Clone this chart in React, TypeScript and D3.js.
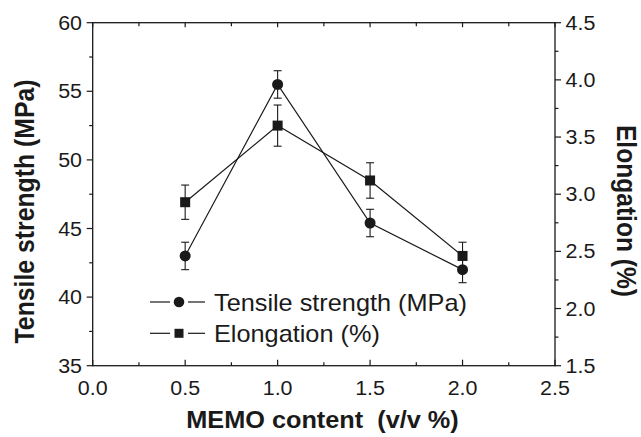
import React from "react";
import * as d3 from "d3";

const xValues = [0.5, 1.0, 1.5, 2.0];
const tensile = [43.0, 55.5, 45.4, 42.0];
const tensileErr = [1.0, 1.0, 1.0, 0.95];
const elongation = [2.93, 3.6, 3.12, 2.46];
const elongationErr = [0.15, 0.18, 0.155, 0.12];

const xTicks = [0, 0.5, 1.0, 1.5, 2.0, 2.5];
const leftTicks = [35, 40, 45, 50, 55, 60];
const rightTicks = [1.5, 2.0, 2.5, 3.0, 3.5, 4.0, 4.5];

const W = 641;
const H = 437;
const L = 92.7;
const R = 555;
const TOP = 22.7;
const BOT = 365.7;
const SX = 1.1;
const INK = "#1a1a1a";
const FONT = "'Liberation Sans', Arial, sans-serif";

const T = ({ x, y, anchor = "start", rot = 0, size, bold = false, children }: any) => (
  <text
    transform={`translate(${x},${y}) scale(${SX},1) rotate(${rot})`}
    textAnchor={anchor}
    fontSize={size}
    fontWeight={bold ? "bold" : "normal"}
    fontFamily={FONT}
    fill={INK}
  >
    {children}
  </text>
);

export default function App() {
  const x = d3.scaleLinear().domain([0, 2.5]).range([L, R]);
  const yL = d3.scaleLinear().domain([35, 60]).range([BOT, TOP]);
  const yR = d3.scaleLinear().domain([1.5, 4.5]).range([BOT, TOP]);

  const xMinor = d3.range(0.25, 2.5, 0.5);
  const lMinor = d3.range(37.5, 60, 5);
  const rMinor = d3.range(1.75, 4.5, 0.5);

  const lineT = d3
    .line<number>()
    .x((_, i) => x(xValues[i]))
    .y((d) => yL(d));
  const lineE = d3
    .line<number>()
    .x((_, i) => x(xValues[i]))
    .y((d) => yR(d));

  const MAJ = 6;
  const MIN = 3.5;
  const cap = 4;

  return (
    <svg width={W} height={H} style={{ position: "absolute", left: 0, top: 0, background: "#fff" }}>
      <rect x={0} y={0} width={W} height={H} fill="#fff" />
      {/* frame */}
      <rect x={L} y={TOP} width={R - L} height={BOT - TOP} fill="none" stroke={INK} strokeWidth={1.3} />
      {/* bottom ticks (inward) and top ticks (inward) */}
      {xTicks.map((t) => (
        <g key={"xt" + t}>
          <line x1={x(t)} x2={x(t)} y1={BOT} y2={BOT - MAJ} stroke={INK} strokeWidth={1.2} />
          <line x1={x(t)} x2={x(t)} y1={TOP} y2={TOP + 4.5} stroke={INK} strokeWidth={1.2} />
          <T x={x(t)} y={395} anchor="middle" size={19.5}>
            {t.toFixed(1)}
          </T>
        </g>
      ))}
      {xMinor.map((t) => (
        <g key={"xm" + t}>
          <line x1={x(t)} x2={x(t)} y1={BOT} y2={BOT - MIN} stroke={INK} strokeWidth={1.2} />
          <line x1={x(t)} x2={x(t)} y1={TOP} y2={TOP + MIN} stroke={INK} strokeWidth={1.2} />
        </g>
      ))}
      {/* left axis ticks (outward) */}
      {leftTicks.map((t) => (
        <g key={"lt" + t}>
          <line x1={L} x2={L - MAJ} y1={yL(t)} y2={yL(t)} stroke={INK} strokeWidth={1.2} />
          <T x={82} y={yL(t) + 7} anchor="end" size={19.5}>
            {t}
          </T>
        </g>
      ))}
      {lMinor.map((t) => (
        <line key={"lm" + t} x1={L} x2={L - MIN} y1={yL(t)} y2={yL(t)} stroke={INK} strokeWidth={1.2} />
      ))}
      {/* right axis ticks (outward) */}
      {rightTicks.map((t) => (
        <g key={"rt" + t}>
          <line x1={R} x2={R + MAJ} y1={yR(t)} y2={yR(t)} stroke={INK} strokeWidth={1.2} />
          <T x={565.5} y={yR(t) + 7} anchor="start" size={19.5}>
            {t.toFixed(1)}
          </T>
        </g>
      ))}
      {rMinor.map((t) => (
        <line key={"rm" + t} x1={R} x2={R + MIN} y1={yR(t)} y2={yR(t)} stroke={INK} strokeWidth={1.2} />
      ))}

      {/* series lines */}
      <path d={lineT(tensile) || ""} fill="none" stroke={INK} strokeWidth={1.2} />
      <path d={lineE(elongation) || ""} fill="none" stroke={INK} strokeWidth={1.2} />

      {/* error bars */}
      {tensile.map((v, i) => (
        <g key={"te" + i} stroke={INK} strokeWidth={1.1}>
          <line x1={x(xValues[i])} x2={x(xValues[i])} y1={yL(v - tensileErr[i])} y2={yL(v + tensileErr[i])} />
          <line x1={x(xValues[i]) - cap} x2={x(xValues[i]) + cap} y1={yL(v - tensileErr[i])} y2={yL(v - tensileErr[i])} />
          <line x1={x(xValues[i]) - cap} x2={x(xValues[i]) + cap} y1={yL(v + tensileErr[i])} y2={yL(v + tensileErr[i])} />
        </g>
      ))}
      {elongation.map((v, i) => (
        <g key={"ee" + i} stroke={INK} strokeWidth={1.1}>
          <line x1={x(xValues[i])} x2={x(xValues[i])} y1={yR(v - elongationErr[i])} y2={yR(v + elongationErr[i])} />
          <line x1={x(xValues[i]) - cap} x2={x(xValues[i]) + cap} y1={yR(v - elongationErr[i])} y2={yR(v - elongationErr[i])} />
          <line x1={x(xValues[i]) - cap} x2={x(xValues[i]) + cap} y1={yR(v + elongationErr[i])} y2={yR(v + elongationErr[i])} />
        </g>
      ))}

      {/* markers */}
      {elongation.map((v, i) => (
        <rect key={"sq" + i} x={x(xValues[i]) - 5} y={yR(v) - 5} width={10} height={10} fill={INK} />
      ))}
      {tensile.map((v, i) => (
        <circle key={"ci" + i} cx={x(xValues[i])} cy={yL(v)} r={5.5} fill={INK} />
      ))}

      {/* legend */}
      <g stroke={INK} strokeWidth={1.2}>
        <line x1={150} x2={170} y1={302} y2={302} />
        <line x1={188} x2={205} y1={302} y2={302} />
        <line x1={150} x2={170} y1={333.3} y2={333.3} />
        <line x1={188} x2={205} y1={333.3} y2={333.3} />
      </g>
      <circle cx={179} cy={302} r={5.3} fill={INK} />
      <rect x={174.5} y={328.8} width={9} height={9} fill={INK} />
      <T x={214} y={310.5} size={23}>Tensile strength (MPa)</T>
      <T x={214} y={342} size={23}>Elongation (%)</T>

      {/* axis titles */}
      <T x={322.5} y={428.3} anchor="middle" size={23} bold>
        MEMO content{"\u00a0\u00a0"}(v/v %)
      </T>
      <T x={34} y={211.5} anchor="middle" rot={-90} size={24.8} bold>
        Tensile strength (MPa)
      </T>
      <T x={617} y={211} anchor="middle" rot={90} size={24.6} bold>
        Elongation (%)
      </T>
    </svg>
  );
}
